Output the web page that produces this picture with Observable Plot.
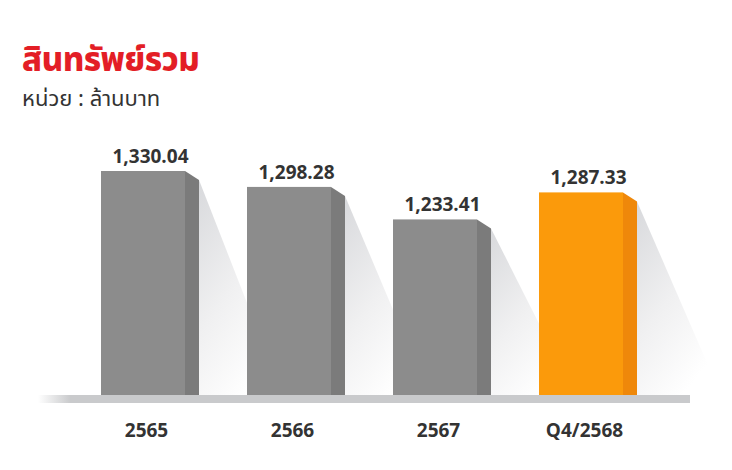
<!DOCTYPE html>
<html><head><meta charset="utf-8">
<script src="https://cdn.jsdelivr.net/npm/d3@7"></script>
<script src="https://cdn.jsdelivr.net/npm/@observablehq/plot@0.6"></script>
<style>
body{margin:0;background:#fff;font-family:"Open Sans","Noto Sans",sans-serif;}
#wrap{position:relative;width:732px;height:470px;overflow:hidden;}
#header{position:relative;height:130px;}
#title{position:absolute;left:22px;top:43px;font-size:33px;line-height:36px;font-weight:800;color:#e31e26;font-family:"Noto Sans Thai","Noto Sans","Open Sans",sans-serif;letter-spacing:-0.5px;}
#subtitle{position:absolute;left:22px;top:88px;font-size:22px;line-height:24px;color:#333;font-family:"Noto Sans Thai","Noto Sans","Open Sans",sans-serif;}
#chart svg{display:block;}
</style></head>
<body><div id="wrap"><div id="header"><div id="title">สินทรัพย์รวม</div><div id="subtitle">หน่วย : ล้านบาท</div></div><div id="chart"></div></div>
<script>
const categories = ["2565", "2566", "2567", "Q4/2568"];
const values = [1330.04, 1298.28, 1233.41, 1287.33];
const valueLabels = ["1,330.04", "1,298.28", "1,233.41", "1,287.33"];
const highlightIndex = 3;

// layout
const W = 732, H = 340;
const yBase = 883, yTopVal = 1330.04, yBasePx = 265, yTopPx = 41;
const unitsPerPx = (yTopVal - yBase) / (yBasePx - yTopPx);
const px = p => p * unitsPerPx;
const step = 146;
const xu = p => p / step;
const halfFront = xu(42), sideW = xu(14), sideDrop = px(9);

const rows = categories.map((c, i) => ({i, c, v: values[i], lab: valueLabels[i], hi: i === highlightIndex}));

const sidePts = rows.flatMap(d => [
  {i: d.i, hi: d.hi, x: d.i + halfFront, y1: yBase, y2: d.v},
  {i: d.i, hi: d.hi, x: d.i + halfFront + sideW, y1: yBase, y2: d.v - sideDrop}
]);
const shadowPts = rows.flatMap(d => [
  {i: d.i, x: d.i + halfFront + sideW, y1: yBase, y2: d.v - sideDrop},
  {i: d.i, x: d.i + halfFront + sideW + xu(84), y1: yBase, y2: yBase}
]);

const chart = Plot.plot({
  width: W, height: H,
  marginLeft: 0, marginRight: 0, marginTop: 0, marginBottom: 0,
  x: {domain: [-0.5, 3.5], range: [70, 654], axis: null},
  y: {domain: [yBase, yTopVal], range: [yBasePx, yTopPx], axis: null},
  color: {type: "identity"},
  style: {fontFamily: "'Open Sans','Noto Sans',sans-serif", background: "#fff"},
  marks: [
    Plot.areaY(shadowPts, {x: "x", y1: "y1", y2: "y2", z: "i", fill: "url(#shadowGrad)", curve: "linear"}),
    Plot.rect([0], {x1: xu(38 - 143), x2: xu(690 - 143), y1: yBase - px(8), y2: yBase, fill: "url(#bandGrad)"}),
    Plot.rect(rows, {x1: d => d.i - halfFront, x2: d => d.i + halfFront, y1: yBase, y2: "v",
      fill: d => d.hi ? "#fb9a0b" : "#8c8c8c"}),
    Plot.areaY(sidePts, {x: "x", y1: "y1", y2: "y2", z: "i",
      fill: d => d.hi ? "#ef880a" : "#7b7b7b"}),
    Plot.text(rows, {x: d => d.i + sideW / 2, y: "v", text: "lab", dy: -15,
      fontSize: 19, fontWeight: 700, fill: "#333"}),
    Plot.text(rows, {x: "i", y: yBase, text: "c", dy: 35, dx: 3,
      fontSize: 19, fontWeight: 700, fill: "#333"})
  ]
});

const svg = d3.select(chart.tagName === "svg" ? chart : chart.querySelector("svg"));
const defs = svg.insert("defs", ":first-child");
const sg = defs.append("linearGradient").attr("id", "shadowGrad")
  .attr("x1", 0).attr("y1", 0).attr("x2", 0.55).attr("y2", 1);
sg.append("stop").attr("offset", 0).attr("stop-color", "#d8d9dc");
sg.append("stop").attr("offset", 0.55).attr("stop-color", "#f0f0f1");
sg.append("stop").attr("offset", 1).attr("stop-color", "#ffffff");
const bg = defs.append("linearGradient").attr("id", "bandGrad")
  .attr("x1", 0).attr("y1", 0).attr("x2", 1).attr("y2", 0);
bg.append("stop").attr("offset", 0).attr("stop-color", "#ffffff");
bg.append("stop").attr("offset", 0.05).attr("stop-color", "#c9cacc");
bg.append("stop").attr("offset", 1).attr("stop-color", "#c9cacc");

document.getElementById("chart").appendChild(chart);
</script>
</body></html>
